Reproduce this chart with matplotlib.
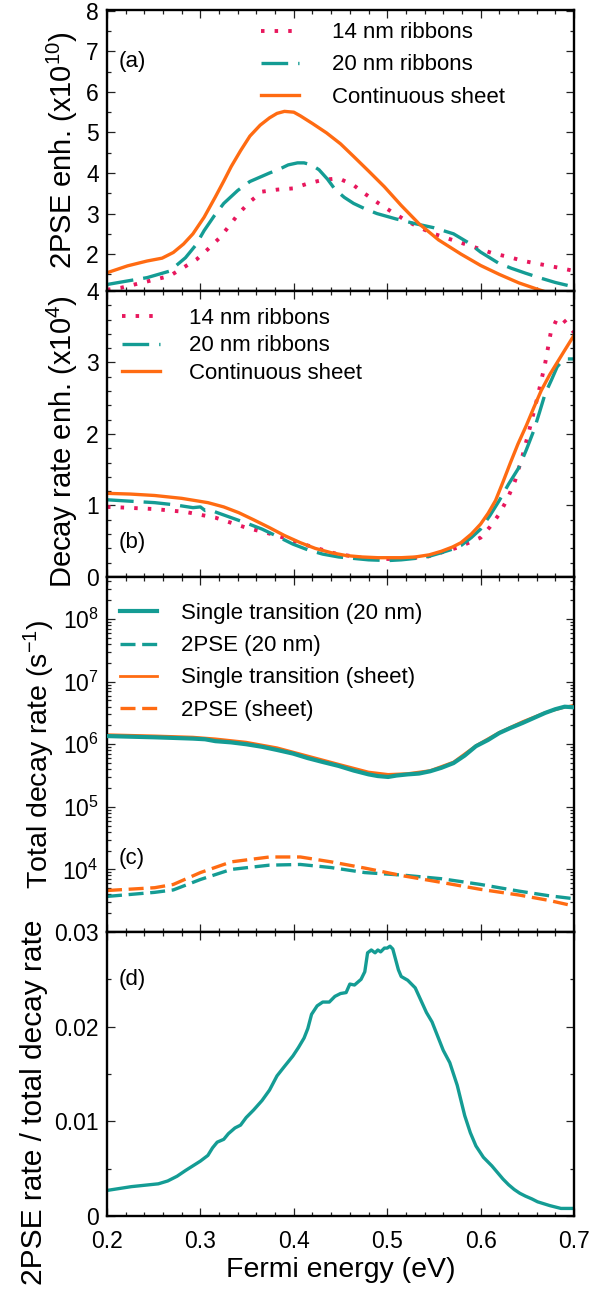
import numpy as np
import matplotlib
matplotlib.use("Agg")
import matplotlib.pyplot as plt
from matplotlib.ticker import MultipleLocator, FixedLocator, FixedFormatter, LogLocator, NullFormatter

plt.rcParams['font.family'] = ['Liberation Sans', 'DejaVu Sans']
plt.rcParams['mathtext.default'] = 'regular'

TEAL = '#149C94'
ORANGE = '#FF6B12'
PINK = '#E8175D'

# ---------------- Panel (a): 2PSE enhancement (x1e10) ----------------
a_sheet_x = [0.2, 0.222, 0.243, 0.259, 0.271, 0.282, 0.292, 0.304, 0.316, 0.325, 0.333, 0.343, 0.353,
             0.364, 0.374, 0.382, 0.39, 0.4, 0.407, 0.42, 0.435, 0.45, 0.464, 0.48, 0.497, 0.515, 0.534,
             0.555, 0.579, 0.6, 0.62, 0.641, 0.66, 0.676, 0.69, 0.7]
a_sheet_y = [1.54, 1.71, 1.83, 1.90, 2.04, 2.25, 2.50, 2.91, 3.41, 3.80, 4.16, 4.55, 4.91,
             5.18, 5.36, 5.47, 5.52, 5.50, 5.41, 5.22, 4.99, 4.72, 4.41, 4.05, 3.66, 3.20, 2.75,
             2.35, 2.00, 1.72, 1.50, 1.29, 1.14, 1.02, 0.93, 0.88]

a_20nm_x = [0.2, 0.22, 0.243, 0.267, 0.284, 0.295, 0.304, 0.315, 0.325, 0.34, 0.353, 0.364, 0.374,
            0.385, 0.394, 0.404, 0.411, 0.419, 0.427, 0.436, 0.444, 0.454, 0.464, 0.476, 0.489,
            0.509, 0.53, 0.55, 0.571, 0.587, 0.6, 0.619, 0.633, 0.648, 0.664, 0.68, 0.7]
a_20nm_y = [1.25, 1.33, 1.42, 1.58, 1.91, 2.22, 2.58, 2.95, 3.25, 3.57, 3.79, 3.90, 4.00,
            4.10, 4.20, 4.25, 4.25, 4.20, 4.08, 3.85, 3.60, 3.40, 3.25, 3.12, 3.00,
            2.87, 2.75, 2.65, 2.50, 2.28, 2.05, 1.78, 1.65, 1.53, 1.41, 1.30, 1.19]

a_14nm_x = [0.2, 0.215, 0.233, 0.251, 0.267, 0.282, 0.296, 0.308, 0.321, 0.331, 0.341, 0.353, 0.366,
            0.382, 0.399, 0.415, 0.431, 0.448, 0.464, 0.476, 0.491, 0.505, 0.52, 0.534, 0.55,
            0.567, 0.583, 0.6, 0.613, 0.63, 0.646, 0.664, 0.68, 0.697, 0.7]
a_14nm_y = [1.12, 1.17, 1.27, 1.37, 1.46, 1.67, 1.87, 2.12, 2.41, 2.70, 3.00, 3.29, 3.54,
            3.59, 3.62, 3.74, 3.83, 3.87, 3.70, 3.49, 3.25, 3.04, 2.83, 2.66, 2.50,
            2.37, 2.25, 2.12, 2.02, 1.93, 1.83, 1.75, 1.68, 1.60, 1.59]

# ---------------- Panel (b): decay rate enhancement (x1e4) ----------------
b_sheet_x = [0.2, 0.225, 0.251, 0.28, 0.308, 0.325, 0.341, 0.357, 0.374, 0.39, 0.407, 0.423, 0.44,
             0.456, 0.473, 0.49, 0.501, 0.515, 0.53, 0.545, 0.558, 0.57, 0.579, 0.59, 0.6, 0.608,
             0.616, 0.624, 0.632, 0.64, 0.649, 0.657, 0.665, 0.674, 0.682, 0.69, 0.7]
b_sheet_y = [1.17, 1.16, 1.14, 1.10, 1.04, 0.98, 0.90, 0.80, 0.69, 0.58, 0.48, 0.40, 0.34,
             0.30, 0.28, 0.27, 0.27, 0.27, 0.28, 0.31, 0.36, 0.42, 0.48, 0.60, 0.74, 0.89,
             1.07, 1.33, 1.60, 1.86, 2.12, 2.37, 2.61, 2.83, 3.00, 3.17, 3.38]

b_20nm_x = [0.2, 0.225, 0.251, 0.272, 0.292, 0.3, 0.305, 0.31, 0.318, 0.333, 0.35, 0.366, 0.382,
            0.399, 0.415, 0.431, 0.448, 0.464, 0.48, 0.501, 0.515, 0.53, 0.545, 0.558, 0.57,
            0.579, 0.59, 0.6, 0.61, 0.62, 0.63, 0.641, 0.649, 0.657, 0.663, 0.669, 0.676,
            0.682, 0.688, 0.692, 0.7]
b_20nm_y = [1.08, 1.06, 1.04, 1.01, 0.97, 0.98, 0.93, 0.94, 0.90, 0.83, 0.75, 0.67, 0.57,
            0.46, 0.38, 0.32, 0.28, 0.26, 0.24, 0.23, 0.24, 0.26, 0.29, 0.34, 0.39,
            0.44, 0.55, 0.67, 0.86, 1.07, 1.30, 1.53, 1.78, 2.05, 2.30, 2.56, 2.76,
            2.94, 3.03, 3.05, 3.05]

b_14nm_x = [0.2, 0.22, 0.251, 0.284, 0.316, 0.349, 0.382, 0.415, 0.444, 0.476, 0.509, 0.542, 0.575,
            0.6, 0.61, 0.62, 0.629, 0.637, 0.645, 0.653, 0.661, 0.669, 0.675, 0.682, 0.687,
            0.692, 0.698, 0.7]
b_14nm_y = [0.98, 0.97, 0.95, 0.91, 0.83, 0.69, 0.58, 0.44, 0.33, 0.26, 0.25, 0.28, 0.41,
            0.55, 0.70, 0.88, 1.10, 1.35, 1.70, 2.10, 2.52, 2.98, 3.41, 3.62, 3.62,
            3.55, 3.45, 3.42]

# ---------------- Panel (c): total decay rate (s^-1) ----------------
c_single20_x = [0.2, 0.225, 0.251, 0.272, 0.292, 0.305, 0.316, 0.333, 0.349, 0.366, 0.382, 0.399,
                0.415, 0.431, 0.448, 0.464, 0.48, 0.49, 0.501, 0.51, 0.522, 0.534, 0.546, 0.558,
                0.571, 0.583, 0.595, 0.608, 0.62, 0.632, 0.645, 0.657, 0.669, 0.68, 0.69, 0.7]
c_single20_y = [1.35e6, 1.32e6, 1.29e6, 1.26e6, 1.23e6, 1.20e6, 1.12e6, 1.07e6, 1.00e6, 9.1e5,
                8.1e5, 7.1e5, 6.0e5, 5.2e5, 4.5e5, 3.8e5, 3.3e5, 3.1e5, 3.0e5, 3.16e5, 3.3e5,
                3.4e5, 3.7e5, 4.2e5, 5.0e5, 6.6e5, 9.3e5, 1.17e6, 1.51e6, 1.82e6, 2.19e6,
                2.63e6, 3.16e6, 3.63e6, 3.98e6, 3.89e6]

c_singlesheet_x = [0.2, 0.251, 0.292, 0.316, 0.349, 0.382, 0.415, 0.448, 0.48, 0.501, 0.522, 0.546,
                   0.571, 0.595, 0.62, 0.645, 0.669, 0.69, 0.7]
c_singlesheet_y = [1.42e6, 1.36e6, 1.30e6, 1.22e6, 1.08e6, 8.8e5, 6.5e5, 4.8e5, 3.6e5, 3.3e5,
                   3.4e5, 3.8e5, 5.2e5, 9.5e5, 1.55e6, 2.3e6, 3.2e6, 3.9e6, 4.2e6]

c_2pse20_x = [0.2, 0.251, 0.271, 0.3, 0.333, 0.374, 0.407, 0.44, 0.476, 0.517, 0.558, 0.6, 0.641,
              0.673, 0.7]
c_2pse20_y = [3.7e3, 4.3e3, 4.7e3, 6.9e3, 1.0e4, 1.17e4, 1.2e4, 1.07e4, 8.9e3, 8.1e3, 7.1e3,
              5.75e3, 4.5e3, 3.8e3, 3.4e3]

c_2psesheet_x = [0.2, 0.251, 0.271, 0.3, 0.333, 0.374, 0.407, 0.44, 0.476, 0.517, 0.558, 0.6,
                 0.641, 0.673, 0.7]
c_2psesheet_y = [4.6e3, 5.1e3, 5.75e3, 8.9e3, 1.32e4, 1.58e4, 1.58e4, 1.32e4, 1.05e4, 7.9e3,
                 6.2e3, 4.8e3, 3.9e3, 3.2e3, 2.6e3]

# ---------------- Panel (d): 2PSE rate / total decay rate ----------------
d_ratio_x = [0.2, 0.226, 0.255, 0.265, 0.275, 0.284, 0.292, 0.3, 0.308, 0.313, 0.318, 0.325,
             0.33, 0.337, 0.343, 0.349, 0.357, 0.366, 0.374, 0.382, 0.39, 0.399, 0.405, 0.411,
             0.415, 0.419, 0.425, 0.431, 0.438, 0.444, 0.45, 0.456, 0.46, 0.465, 0.472, 0.476,
             0.479, 0.483, 0.487, 0.49, 0.493, 0.497, 0.5, 0.503, 0.506, 0.509, 0.512, 0.515,
             0.522, 0.53, 0.536, 0.542, 0.548, 0.554, 0.56, 0.567, 0.571, 0.575, 0.579, 0.583,
             0.589, 0.595, 0.603, 0.612, 0.618, 0.624, 0.63, 0.636, 0.642, 0.648, 0.655, 0.661,
             0.674, 0.686, 0.7]
d_ratio_y = [0.0027, 0.0031, 0.0034, 0.0037, 0.0042, 0.0048, 0.0053, 0.0058, 0.0064, 0.0072,
             0.0078, 0.0081, 0.0087, 0.0093, 0.0096, 0.0104, 0.0112, 0.0122, 0.0133, 0.0148,
             0.0158, 0.0169, 0.0178, 0.0188, 0.0198, 0.0213, 0.0222, 0.0226, 0.0226, 0.0232,
             0.0235, 0.0236, 0.0245, 0.0244, 0.0250, 0.0258, 0.0278, 0.0281, 0.0278, 0.0281,
             0.0279, 0.0283, 0.0283, 0.0285, 0.0282, 0.0271, 0.0260, 0.0253, 0.0249, 0.0241,
             0.0228, 0.0215, 0.0205, 0.0190, 0.0175, 0.0162, 0.0150, 0.0138, 0.0122, 0.0106,
             0.0088, 0.0074, 0.0062, 0.0053, 0.0046, 0.0039, 0.0033, 0.0028, 0.0024, 0.0021,
             0.0018, 0.0015, 0.0011, 0.0008, 0.0008]

x_ticks = [0.2, 0.3, 0.4, 0.5, 0.6, 0.7]
x_tick_labels = ['0.2', '0.3', '0.4', '0.5', '0.6', '0.7']

# ---------------- Figure ----------------
W, H = 602, 1294
fig = plt.figure(figsize=(W / 100, H / 100), dpi=100)

def ax_at(top, bottom, left=107, right=574):
    return fig.add_axes([left / W, 1 - bottom / H, (right - left) / W, (bottom - top) / H])

axA = ax_at(10, 291)
axB = ax_at(291, 577)
axC = ax_at(577, 932)
axD = ax_at(932, 1216)

LW = 2.4
dot_style = (0, (0.9, 2.6))
long_dash = (0, (8, 3))
short_dash = (0, (4.5, 2))
LABEL_FS = 20.5
LEG_FS = 16
PANEL_FS = 16

for ax in (axA, axB, axC, axD):
    ax.set_xlim(0.2, 0.7)
    ax.xaxis.set_major_locator(FixedLocator(x_ticks))
    ax.xaxis.set_minor_locator(MultipleLocator(0.02))
    ax.tick_params(which='both', direction='in', top=True, right=True, labelsize=16.5,
                   width=0.9, color='#222222')
    ax.tick_params(which='major', length=6)
    ax.tick_params(which='minor', length=3)
    ax.tick_params(axis='y', which='major', pad=6)
    ax.tick_params(axis='x', which='major', pad=10)
    for s in ax.spines.values():
        s.set_linewidth(1.7)
    if ax is not axD:
        ax.tick_params(labelbottom=False)

# (a)
axA.plot(a_14nm_x, a_14nm_y, color=PINK, lw=LW + 0.4, linestyle=dot_style, label='14 nm ribbons')
axA.plot(a_20nm_x, a_20nm_y, color=TEAL, lw=LW, linestyle=long_dash, label='20 nm ribbons')
axA.plot(a_sheet_x, a_sheet_y, color=ORANGE, lw=LW, label='Continuous sheet')
axA.set_ylim(1.09, 8.02)
axA.yaxis.set_major_locator(FixedLocator([2, 3, 4, 5, 6, 7, 8]))
axA.yaxis.set_minor_locator(MultipleLocator(0.5))
axA.set_ylabel('2PSE enh. (x10$^{10}$)', fontsize=LABEL_FS + 0.5)
axA.text(0.024, 0.815, '(a)', transform=axA.transAxes, fontsize=PANEL_FS, va='center', ha='left')
axA.legend(loc='upper left', bbox_to_anchor=(0.33, 0.956), frameon=False, fontsize=LEG_FS,
           handlelength=1.7, handletextpad=1.5, labelspacing=0.5, borderpad=0, borderaxespad=0)

# (b)
axB.plot(b_14nm_x, b_14nm_y, color=PINK, lw=LW + 0.4, linestyle=dot_style, label='14 nm ribbons')
axB.plot(b_20nm_x, b_20nm_y, color=TEAL, lw=LW, linestyle=long_dash, label='20 nm ribbons')
axB.plot(b_sheet_x, b_sheet_y, color=ORANGE, lw=LW, label='Continuous sheet')
axB.set_ylim(0, 4)
axB.yaxis.set_major_locator(FixedLocator([0, 1, 2, 3, 4]))
axB.yaxis.set_minor_locator(MultipleLocator(0.2))
axB.set_ylabel('Decay rate enh. (x10$^{4}$)', fontsize=LABEL_FS + 0.5)
axB.yaxis.label.set_y(0.475)
axB.text(0.024, 0.122, '(b)', transform=axB.transAxes, fontsize=PANEL_FS, va='center', ha='left')
axB.legend(loc='upper left', bbox_to_anchor=(0.033, 0.94), frameon=False, fontsize=LEG_FS,
           handlelength=1.7, handletextpad=1.3, labelspacing=0.28, borderpad=0, borderaxespad=0)

# (c)
axC.plot(c_single20_x, c_single20_y, color=TEAL, lw=LW + 0.6, label='Single transition (20 nm)',
         zorder=3)
axC.plot(c_2pse20_x, c_2pse20_y, color=TEAL, lw=LW, linestyle=short_dash, label='2PSE (20 nm)')
axC.plot(c_singlesheet_x, c_singlesheet_y, color=ORANGE, lw=LW - 0.4, label='Single transition (sheet)')
axC.plot(c_2psesheet_x, c_2psesheet_y, color=ORANGE, lw=LW, linestyle=short_dash, label='2PSE (sheet)')
axC.set_yscale('log')
axC.set_ylim(1e3, 4.7e8)
axC.yaxis.set_major_locator(FixedLocator([1e4, 1e5, 1e6, 1e7, 1e8]))
axC.yaxis.set_minor_locator(LogLocator(base=10, subs=np.arange(2, 10)))
axC.yaxis.set_minor_formatter(NullFormatter())
axC.set_ylabel('Total decay rate (s$^{-1}$)', fontsize=LABEL_FS)
axC.text(0.024, 0.206, '(c)', transform=axC.transAxes, fontsize=PANEL_FS, va='center', ha='left')
axC.legend(loc='upper left', bbox_to_anchor=(0.027, 0.926), frameon=False, fontsize=LEG_FS,
           handlelength=1.7, handletextpad=1.05, labelspacing=0.5, borderpad=0, borderaxespad=0)

# (d)
axD.plot(d_ratio_x, d_ratio_y, color=TEAL, lw=LW)
axD.set_ylim(0, 0.03)
axD.yaxis.set_major_locator(FixedLocator([0, 0.01, 0.02, 0.03]))
axD.yaxis.set_major_formatter(FixedFormatter(['0', '0.01', '0.02', '0.03']))
axD.yaxis.set_minor_locator(MultipleLocator(0.005))
axD.set_ylabel('2PSE rate / total decay rate', fontsize=LABEL_FS + 1)
axD.yaxis.label.set_y(0.4)
axD.text(0.024, 0.831, '(d)', transform=axD.transAxes, fontsize=PANEL_FS, va='center', ha='left')
axD.set_xticklabels(x_tick_labels)
axD.set_xlabel('Fermi energy (eV)', fontsize=LABEL_FS, labelpad=3)

fig.savefig('out.png', dpi=100)
